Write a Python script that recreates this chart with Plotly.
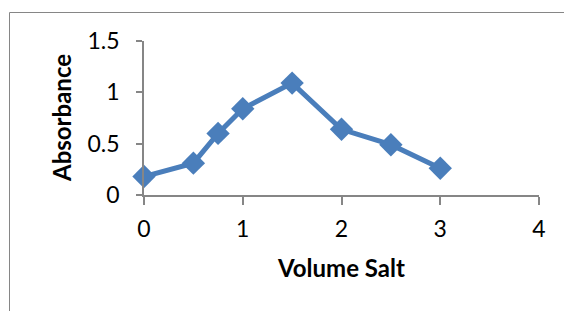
import plotly.graph_objects as go

volume_salt = [0, 0.5, 0.75, 1, 1.5, 2, 2.5, 3]
absorbance = [0.18, 0.31, 0.6, 0.84, 1.09, 0.64, 0.49, 0.26]
x_ticks = [0, 1, 2, 3, 4]
y_ticks = [0, 0.5, 1, 1.5]
y_tick_labels = ["0", "0.5", "1", "1.5"]

W, H = 572, 311
OFF = 7  # page body offset
L, T = 143 - OFF, 40 - OFF
R = W - (538 - OFF)
B = H - (194 - OFF)
pw, ph = W - L - R, H - T - B

def px(x):
    return (x - OFF - L) / pw

def py(y):
    return (H - B - (y - OFF)) / ph

FONT = "Lato, Carlito, Liberation Sans, sans-serif"

fig = go.Figure()
fig.add_trace(go.Scatter(
    x=volume_salt, y=absorbance, mode="lines+markers",
    line=dict(color="#4A7EBB", width=5),
    marker=dict(symbol="diamond", size=18, color="#4A7EBB"),
    cliponaxis=False, showlegend=False,
))

axis_font = dict(family=FONT, size=23, color="#000000")
fig.update_layout(
    width=W, height=H,
    margin=dict(l=L, r=R, t=T, b=B),
    paper_bgcolor="white", plot_bgcolor="white",
    xaxis=dict(range=[0, 4], tickvals=x_ticks, ticktext=[str(v) for v in x_ticks],
               showgrid=False, zeroline=False, showline=True, linecolor="#868686", linewidth=1.5,
               ticks="outside", ticklen=8, tickwidth=1.5, tickcolor="#868686",
               tickfont=axis_font, ticklabelstandoff=5),
    yaxis=dict(range=[0, 1.5], tickvals=y_ticks, ticktext=y_tick_labels,
               showgrid=False, zeroline=False, showline=True, linecolor="#868686", linewidth=1.5,
               ticks="outside", ticklen=6, tickwidth=1.5, tickcolor="#868686",
               tickfont=axis_font, ticklabelstandoff=12),
    annotations=[
        dict(text="<b>Volume Salt</b>", xref="paper", yref="paper", x=px(340), y=py(266),
             xanchor="center", yanchor="middle", showarrow=False,
             font=dict(family=FONT, size=24, color="#000000")),
        dict(text="<b>Absorbance</b>", xref="paper", yref="paper", x=px(60), y=py(117),
             xanchor="center", yanchor="middle", showarrow=False, textangle=-90,
             font=dict(family=FONT, size=24, color="#000000")),
    ],
    shapes=[
        dict(type="line", xref="paper", yref="paper", x0=px(8.5), x1=px(600), y0=py(11.5), y1=py(11.5),
             line=dict(color="#868686", width=1)),
        dict(type="line", xref="paper", yref="paper", x0=px(8.5), x1=px(8.5), y0=py(11.5), y1=py(330),
             line=dict(color="#868686", width=1)),
    ],
)

fig.write_html("out.html")
